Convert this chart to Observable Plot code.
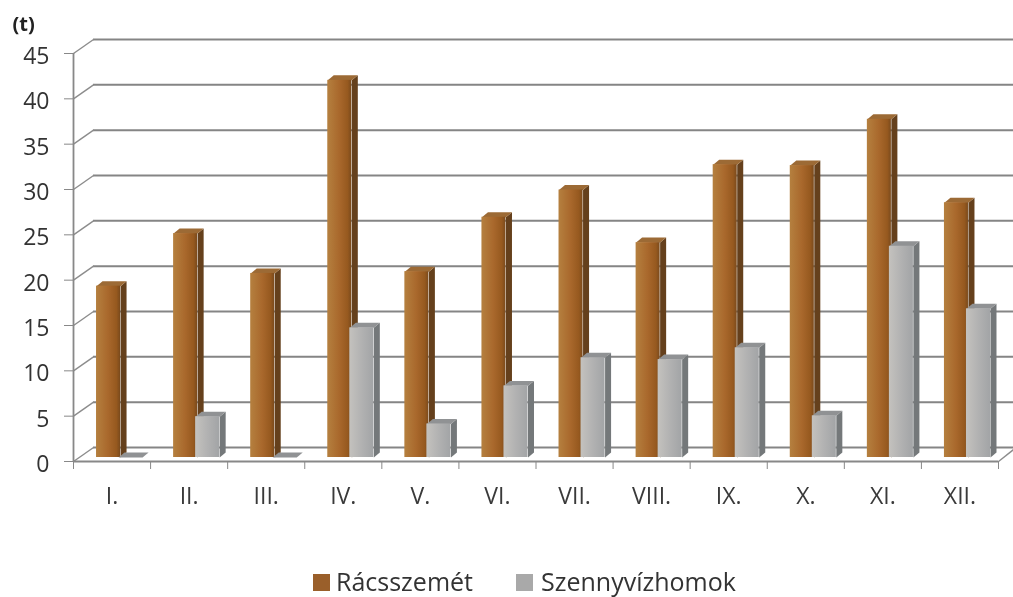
<!DOCTYPE html>
<html><head><meta charset="utf-8">
<script src="https://cdn.jsdelivr.net/npm/d3@7"></script>
<script src="https://cdn.jsdelivr.net/npm/@observablehq/plot@0.6"></script>
<style>
html,body{margin:0;padding:0;background:#fff;overflow:hidden}
#chart{width:1013px;height:597px;position:relative;font-family:"Open Sans",sans-serif}
#legend{position:absolute;left:0;top:564px;width:1013px;height:32px;font-size:25px;color:#333;line-height:34px;filter:blur(0.6px)}
#legend span.sw{display:inline-block;width:17px;height:17px;position:absolute;top:10px}
#legend span.tx{position:absolute;white-space:nowrap}
svg{display:block}
</style></head><body>
<div id="chart"></div>
<script>
const months = ["I.","II.","III.","IV.","V.","VI.","VII.","VIII.","IX.","X.","XI.","XII."];
const racsszemet = [18.9,24.7,20.3,41.6,20.5,26.5,29.5,23.7,32.3,32.2,37.3,28.1];
const homok = [0,4.5,0,14.3,3.7,7.9,11,10.8,12.1,4.6,23.3,16.4];
const seriesNames = ["Rácsszemét","Szennyvízhomok"];
const yTicks = [0,5,10,15,20,25,30,35,40,45];

// depth of the pseudo-3D wall and bars, in scale units
const wallDX = 20/77, wallDY = 14/9.07;
const barDX = 6/77, barDY = 5/9.07;
const wB = 24/77, wG = 24/77;
const startB = 23/77, startG = 45/77;

function polys(values, start, w) {
  const front=[], side=[], top=[];
  values.forEach((v,i)=>{
    const L=i+start, R=L+w;
    front.push({x1:L,x2:R,y:v});
    side.push({k:i,x:R,y:0},{k:i,x:R+barDX,y:barDY},{k:i,x:R+barDX,y:v+barDY},{k:i,x:R,y:v});
    top.push({k:i,x:L,y:v},{k:i,x:R,y:v},{k:i,x:R+barDX,y:v+barDY},{k:i,x:L+barDX,y:v+barDY});
  });
  return {front,side,top};
}
const lift = -4;
function bars(values,start,w,fill,sideFill,topFill){
  const p=polys(values,start,w);
  return [
    Plot.line(p.side,{x:"x",y:"y",z:"k",fill:sideFill,stroke:"none",curve:"linear-closed",dy:lift}),
    Plot.line(p.top,{x:"x",y:"y",z:"k",fill:topFill,stroke:"none",curve:"linear-closed",dy:lift}),
    Plot.rectY(p.front,{x1:"x1",x2:"x2",y1:0,y2:"y",fill:fill,dy:lift})
  ];
}

const plot = Plot.plot({
  width:1013,height:565,
  marginLeft:73,marginRight:15,marginTop:53,marginBottom:104,
  style:{fontFamily:'"Open Sans",sans-serif',background:"#fff"},
  x:{type:"linear",domain:[0,12],range:[73,998]},
  y:{domain:[0,45],range:[461,53]},
  marks:[
    // back wall gridlines
    Plot.ruleY(yTicks,{x1:0,x2:12,dx:20,dy:-14,stroke:"#858585",strokeWidth:2}),
    // wall connectors
    Plot.link(yTicks,{x1:()=>0,x2:()=>wallDX,y1:d=>d,y2:d=>d+wallDY,stroke:"#8c8c8c",strokeWidth:1.4}),
    // floor right connector and front floor edge
    Plot.link([0],{x1:()=>12,x2:()=>12+wallDX*0.75,y1:d=>d,y2:d=>d+wallDY*0.85,stroke:"#8c8c8c",strokeWidth:1.4}),
    Plot.ruleX([0],{y1:0,y2:45,stroke:"#888",strokeWidth:1.8}),
    Plot.ruleY([0],{stroke:"#888",strokeWidth:1.8}),
    ...bars(racsszemet,startB,wB,"url(#gb)","#65401c","#9c6a35"),
    ...bars(homok,startG,wG,"url(#gg)","#74787a","#909294"),
    Plot.axisY({ticks:yTicks,tickSize:9,tickFormat:()=>"",label:null,stroke:"#888"}),
    Plot.axisY({ticks:yTicks,tickSize:0,tickPadding:24,dy:3,label:null,fontSize:23,color:"#333"}),
    Plot.axisX({ticks:d3.range(13),tickSize:8,tickFormat:()=>"",label:null,stroke:"#888"}),
    Plot.text(months,{x:(d,i)=>i+0.5,y:()=>0,dy:35,text:d=>d,fontSize:23,fill:"#3a3a3a"}),
    Plot.text(["(t)"],{frameAnchor:"top-left",dx:-61,dy:-37,fontWeight:"bold",fontSize:20,fill:"#222"})
  ]
});
const defs=d3.select(plot).append("defs");
function grad(id,stops){
  const g=defs.append("linearGradient").attr("id",id).attr("x1","0").attr("x2","1").attr("y1","0").attr("y2","0");
  stops.forEach(([o,c])=>g.append("stop").attr("offset",o).attr("stop-color",c));
}
grad("gb",[[0,"#b5803f"],[0.5,"#a9682c"],[0.85,"#96591f"],[1,"#7a4a1c"]]);
grad("gg",[[0,"#c4c2be"],[0.5,"#b2b2b2"],[1,"#a2a4a6"]]);
const chart=document.getElementById("chart");
chart.appendChild(plot);
const lg=document.createElement("div");lg.id="legend";
const cols=["#9a5f2a","#a9a9a9"];
const swX=[313,516], txX=[336,541];
seriesNames.forEach((n,i)=>{
  const s=document.createElement("span");s.className="sw";s.style.left=swX[i]+"px";s.style.background=cols[i];
  const t=document.createElement("span");t.className="tx";t.style.left=txX[i]+"px";t.textContent=n;
  lg.append(s,t);
});
chart.appendChild(lg);
plot.style.filter="blur(0.7px)";
</script>
</body></html>
